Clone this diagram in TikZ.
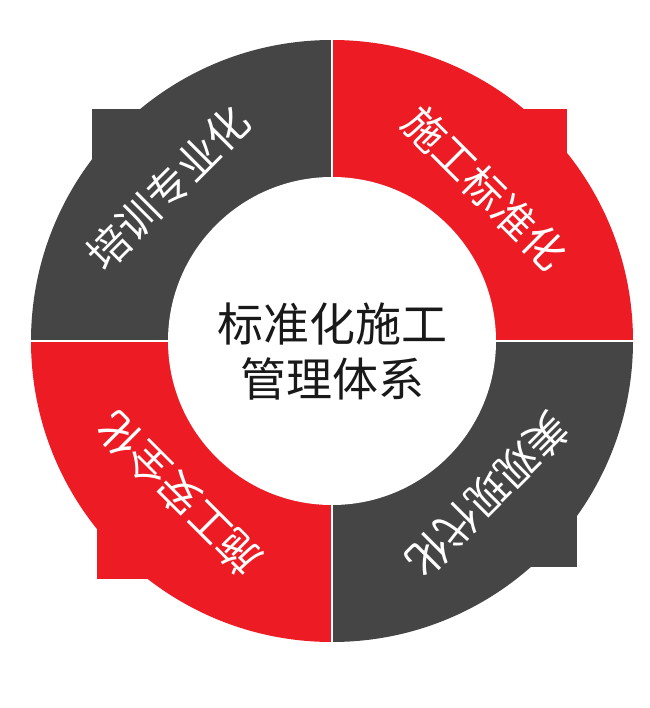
\documentclass[tikz,border=0pt]{standalone}
\usepackage{fontspec}
\newfontfamily\cjk{Noto Sans CJK SC}
\definecolor{dg}{HTML}{454545}
\definecolor{rd}{HTML}{ED1C24}
\begin{document}
\begin{tikzpicture}[x=1pt,y=-1pt,
  ringtext/.style={text=white,font=\cjk\fontsize{42}{46}\selectfont,inner sep=0pt},
  centertext/.style={text=black!90,font=\cjk\fontsize{46}{55}\selectfont,align=center,inner sep=0pt}]
\useasboundingbox (0,0) rectangle (649,708);
\coordinate (c) at (332,341);
% quadrants (y axis points down, so arc angles are mirrored)
\fill[dg] (c) -- (31,341) arc[start angle=180,end angle=270,radius=301] -- cycle;
\fill[dg] (c) rectangle (92,109);
\fill[rd] (c) -- (332,40) arc[start angle=270,end angle=360,radius=301] -- cycle;
\fill[rd] (c) rectangle (567,109);
\fill[dg] (c) -- (633,341) arc[start angle=0,end angle=90,radius=301] -- cycle;
\fill[dg] (c) rectangle (577,567);
\fill[rd] (c) -- (332,642) arc[start angle=90,end angle=180,radius=301] -- cycle;
\fill[rd] (c) rectangle (97,579);
% inner hole and gaps
\fill[white] (c) circle[radius=164];
\draw[white,line width=2pt] (332,30) -- (332,652);
\draw[white,line width=2pt] (20,341) -- (644,341);
% ring labels
\node[ringtext,rotate=45] (tl) at (168,188) {培训专业化};
\node[ringtext,rotate=-45] (tr) at (485,188) {施工标准化};
\node[ringtext,rotate=-135] (br) at (488,495) {美观现代化};
\node[ringtext,rotate=135] (bl) at (179,494) {施工安全化};
% center
\node[centertext] (ct) at (332,352) {标准化施工\\管理体系};
\end{tikzpicture}
\end{document}
